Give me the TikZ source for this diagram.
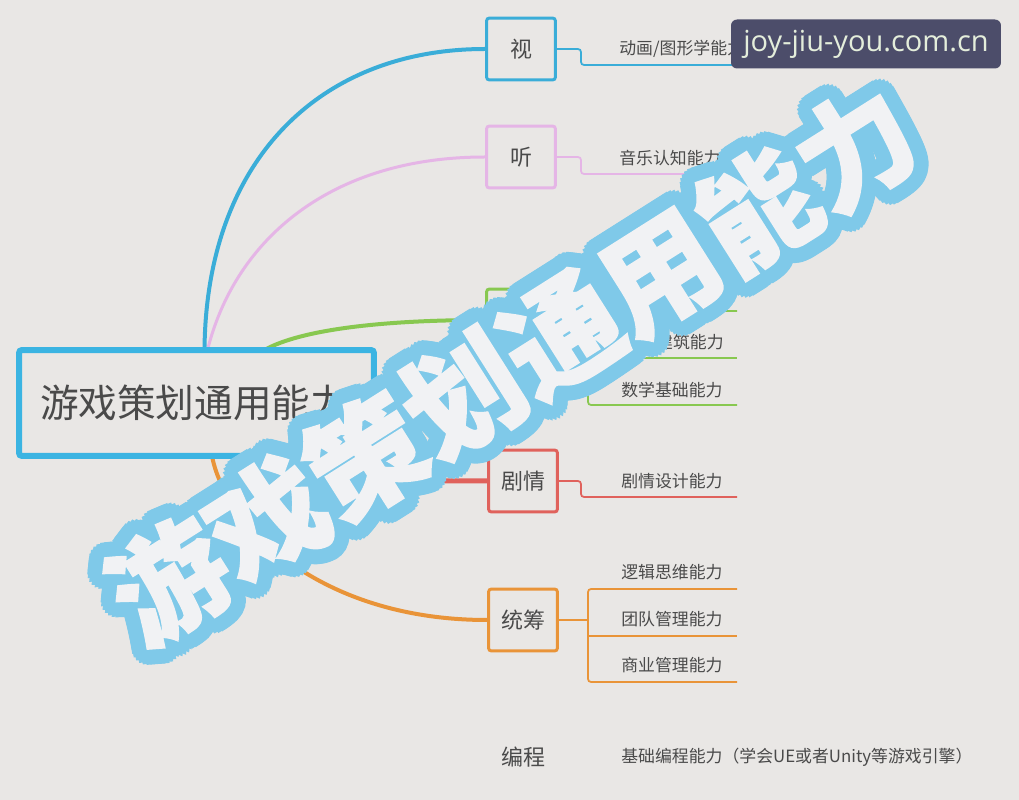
\documentclass[tikz,border=0pt]{standalone}
\usepackage{fontspec}
\setmainfont{Noto Sans CJK SC}
\newfontfamily\badgefont{Open Sans}
\usetikzlibrary{positioning}

\definecolor{bgcol}{HTML}{E9E7E5}
\definecolor{txtcol}{HTML}{4A4A4A}
\definecolor{cblue}{HTML}{3AADD8}
\definecolor{crootblue}{HTML}{3BB4E2}
\definecolor{cpink}{HTML}{E5B5E6}
\definecolor{cgreen}{HTML}{88C850}
\definecolor{cred}{HTML}{E0625C}
\definecolor{corange}{HTML}{E99438}
\definecolor{wmblue}{HTML}{7FC9E9}
\definecolor{wmwhite}{HTML}{F1F2F4}
\definecolor{badgecol}{HTML}{4C4D6A}
\definecolor{badgetxt}{HTML}{E4EEDB}

\tikzset{
  topic/.style={draw, rounded corners=0.06cm, line width=0.06cm, fill=bgcol,
    minimum width=1.38cm, minimum height=1.24cm, inner sep=0pt, text=txtcol,
    font=\fontsize{12.5}{14}\selectfont},
  leaf/.style={anchor=west, inner sep=0pt, text=txtcol,
    font=\fontsize{9.6}{11}\selectfont},
  branch/.style={line width=0.08cm},
  twig/.style={line width=0.035cm, rounded corners=0.06cm},
  wmtext/.style={inner sep=0pt, rotate=32.3,
    font=\fontsize{66}{70}\selectfont\bfseries\addfontfeature{FakeBold=1.5}},
}

\begin{document}
\begin{tikzpicture}[x=0.02cm, y=-0.02cm]
                % Drawing background
                \fill [bgcol] (0,0) rectangle (1019,800);
                \useasboundingbox (0,0) rectangle (1019,800);

                % Marking topic nodes
                \node [topic, draw=cblue] (shi) at (521,49) {视};
                \node [topic, draw=cpink] (ting) at (521,157) {听};
                \node [topic, draw=cgreen] (kong) at (521,320) {};
                \node [topic, draw=cred] (juqing) at (523,481) {剧情};
                \node [topic, draw=corange] (tongchou) at (523,620) {统筹};
                \node [text=txtcol, font=\fontsize{12.5}{14}\selectfont] (biancheng) at (523,757) {编程};

                % Marking root node
                \coordinate (rootc) at (196.5,403);

                % Drawing branch curves
                \draw [branch, cblue] (204.5,350) .. controls (206,160) and (320,49) .. (shi.west);%
                \draw [branch, cpink, line width=0.06cm] (207.5,350) .. controls (235,240) and (330,157) .. (ting.west);%
                \draw [branch, cgreen] (264.5,350) .. controls (300,330) and (380,320) .. (kong.west);%
                \draw [branch, cred, line width=0.1cm] (326.5,456) .. controls (360,481) and (420,481) .. (juqing.west);%
                \draw [branch, corange] (212,456) .. controls (225,525) and (320,620) .. (tongchou.west);%

                % Drawing root box
                \node [draw=crootblue, line width=0.12cm, rounded corners=0.06cm, fill=bgcol,
                  minimum width=7.1cm, minimum height=2.12cm, text width=6.26cm, inner xsep=0.42cm,
                  align=left, text=txtcol, font=\fontsize{22}{26}\selectfont] (root) at (rootc) {游戏策划通用能力};

                % Marking leaf ends
                \coordinate (shiL) at (737,65);
                \coordinate (tingL) at (737,174);
                \coordinate (kongA) at (737,311);
                \coordinate (kongB) at (737,358);
                \coordinate (kongC) at (737,405);
                \coordinate (juqingL) at (737,497);
                \coordinate (tcA) at (737,589);
                \coordinate (tcB) at (737,636);
                \coordinate (tcC) at (737,682);

                % Drawing twigs
                \draw [twig, cblue] (shi.east) -- ++(24,0) |- (shiL);%
                \draw [twig, cpink] (ting.east) -- ++(24,0) |- (tingL);%
                \draw [twig, cgreen] (kongA) -- (588,311) -- (588,405) -- (kongC);%
                \draw [twig, cgreen] (kong.east) -- (588,320);%
                \draw [twig, cgreen] (588,358) -- (kongB);%
                \draw [twig, cred] (juqing.east) -- ++(22,0) |- (juqingL);%
                \draw [twig, corange] (tcA) -- (588,589) -- (588,682) -- (tcC);%
                \draw [twig, corange] (tongchou.east) -- (588,620);%
                \draw [twig, corange] (588,636) -- (tcB);%

                % Marking leaf texts
                \node [leaf] (shiT) at (619,49) {动画/图形学能力};
                \node [leaf] (tingT) at (619,158) {音乐认知能力};
                \node [leaf, anchor=east] (kongTB) at (724,342) {建筑能力};
                \node [leaf] (kongTC) at (621,390) {数学基础能力};
                \node [leaf] (juqingT) at (621,481) {剧情设计能力};
                \node [leaf] (tcTA) at (621,572) {逻辑思维能力};
                \node [leaf] (tcTB) at (621,619) {团队管理能力};
                \node [leaf] (tcTC) at (621,665) {商业管理能力};
                \node [leaf] (bianchengT) at (621,757) {基础编程能力（学会UE或者Unity等游戏引擎）};

                % Drawing watermark
                \coordinate (wmc) at (512,364);
                \foreach \r/\n in {3pt/1,6pt/2,8.5pt/3}{
                  \foreach \a in {0,15,...,345}{
                    \node [wmtext, text=wmblue] (wm\n-\a) at ([shift={(\a:\r)}]wmc) {游戏策划通用能力};
                  }
                }
                \node [wmtext, text=wmwhite] (wm) at (wmc) {游戏策划通用能力};

                % Marking site badge
                \node [fill=badgecol, rounded corners=0.12cm, minimum width=5.4cm, minimum height=0.98cm,
                  text=badgetxt, font=\badgefont\fontsize{16.5}{19}\selectfont] (site) at (866,44) {joy-jiu-you.com.cn};
\end{tikzpicture}
\end{document}
